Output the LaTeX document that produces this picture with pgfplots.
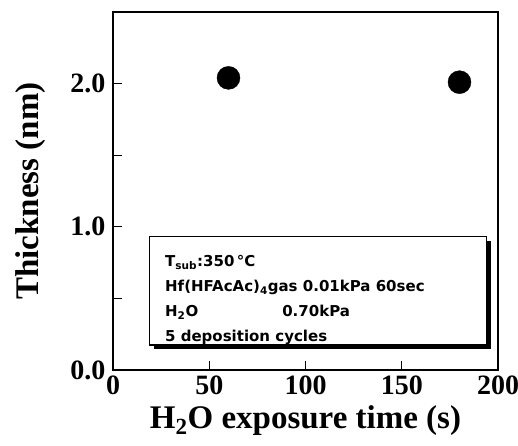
\documentclass[border=0pt]{standalone}
\usepackage{pgfplots}
\pgfplotsset{compat=1.18}
\usepackage{fontspec}
\setmainfont{Liberation Serif}
\newfontfamily\boxfont{DejaVu Sans}
\begin{document}
\begin{tikzpicture}[x=1pt,y=1pt]
\path[use as bounding box] (0,0) rectangle (518,445);
\begin{axis}[
  at={(113pt,75pt)}, anchor=south west,
  scale only axis, width=385pt, height=358pt,
  xmin=0, xmax=200, ymin=0, ymax=2.5,
  xtick={0,50,100,150,200},
  ytick={0,1,2},
  minor ytick={0.5,1.5},
  yticklabel style={/pgf/number format/fixed, /pgf/number format/fixed zerofill, /pgf/number format/precision=1, xshift=-4pt},
  /pgf/number format/assume math mode=true,
  tick align=inside,
  xtick pos=bottom, ytick pos=left,
  major tick length=9pt, minor tick length=9pt,
  axis line style={line width=1.6pt},
  every tick/.style={line width=1.3pt, black},
  tick label style={font=\fontsize{28}{28}\selectfont\bfseries},
  xticklabel style={yshift=-2pt},
  xlabel={H\textsubscript{2}O exposure time (s)},
  ylabel={Thickness (nm)},
  label style={font=\fontsize{33}{33}\selectfont\bfseries},
  xlabel style={yshift=-4pt},
  ylabel style={yshift=18pt},
  clip=false,
]
\addplot[only marks, mark=*, mark size=11.5pt, black] coordinates {(60,2.04) (180,2.01)};
\fill[black] (axis cs:19,0.175) ++(4.5pt,-4.5pt) rectangle ([xshift=4.5pt,yshift=-4.5pt]axis cs:194,0.93);
\fill[white] (axis cs:19,0.175) rectangle (axis cs:194,0.93);
\draw[line width=1.3pt] (axis cs:19,0.175) rectangle (axis cs:194,0.93);
\node[anchor=north west, font=\boxfont\fontsize{15}{25}\selectfont\bfseries, align=left, inner sep=0pt] at (axis cs:27,0.80) {%
T\textsubscript{sub}:350\,°C\\
Hf(HFAcAc)\textsubscript{4}gas 0.01kPa 60sec\\
H\textsubscript{2}O\hspace{5.6em}0.70kPa\\
5 deposition cycles};
\end{axis}
\end{tikzpicture}
\end{document}
